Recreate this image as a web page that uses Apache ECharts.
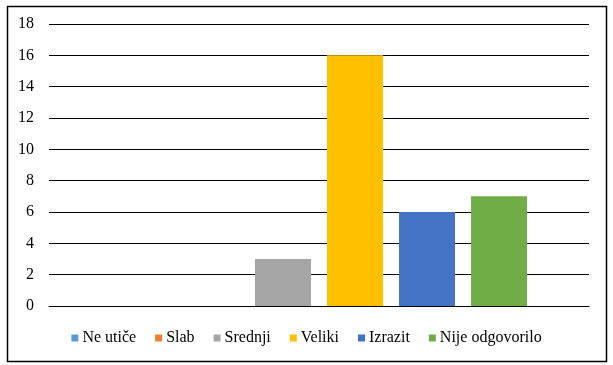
<!DOCTYPE html>
<html>
<head>
<meta charset="utf-8">
<script src="https://cdn.jsdelivr.net/npm/echarts@6/dist/echarts.min.js"></script>
<style>
html,body{margin:0;padding:0;background:#fff;}
#chart{width:613px;height:365px;}
</style>
</head>
<body>
<div id="chart"></div>
<script>
const seriesNames = ['Ne utiče', 'Slab', 'Srednji', 'Veliki', 'Izrazit', 'Nije odgovorilo'];
const seriesValues = [0, 0, 3, 16, 6, 7];
const seriesColors = ['#5B9BD5', '#ED7D31', '#A5A5A5', '#FFC000', '#4472C4', '#70AD47'];
const categories = [''];
const yMin = 0, yMax = 18, yStep = 2;

const font = "'Times New Roman', 'Liberation Serif', serif";
const chart = echarts.init(document.getElementById('chart'));
chart.setOption({
  animation: false,
  backgroundColor: '#fff',
  textStyle: { fontFamily: font },
  graphic: [{
    type: 'rect',
    shape: { x: 7.5, y: 6.5, width: 599, height: 355 },
    style: { fill: 'none', stroke: '#000', lineWidth: 1.5 },
    silent: true
  }],
  grid: { left: 49, right: 24, top: 24, bottom: 59, containLabel: false },
  legend: {
    bottom: 14,
    left: 'center',
    itemWidth: 7,
    itemHeight: 7,
    itemGap: 19,
    icon: 'rect',
    textStyle: { fontFamily: font, fontSize: 16, color: '#000', padding: [0, 0, 0, -1] },
    data: seriesNames
  },
  xAxis: {
    type: 'category',
    data: categories,
    axisLine: { show: true, lineStyle: { color: '#000', width: 1 } },
    axisTick: { show: false },
    axisLabel: { show: false },
    splitLine: { show: false }
  },
  yAxis: {
    type: 'value',
    min: yMin, max: yMax, interval: yStep,
    axisLine: { show: false },
    axisTick: { show: false },
    axisLabel: { fontFamily: font, fontSize: 16, color: '#000', margin: 15 },
    splitLine: { lineStyle: { color: '#000', width: 1 } }
  },
  series: seriesNames.map((name, i) => ({
    name: name,
    type: 'bar',
    data: [seriesValues[i]],
    barWidth: 56,
    barGap: '28.6%',
    itemStyle: { color: seriesColors[i] }
  }))
});
</script>
</body>
</html>
